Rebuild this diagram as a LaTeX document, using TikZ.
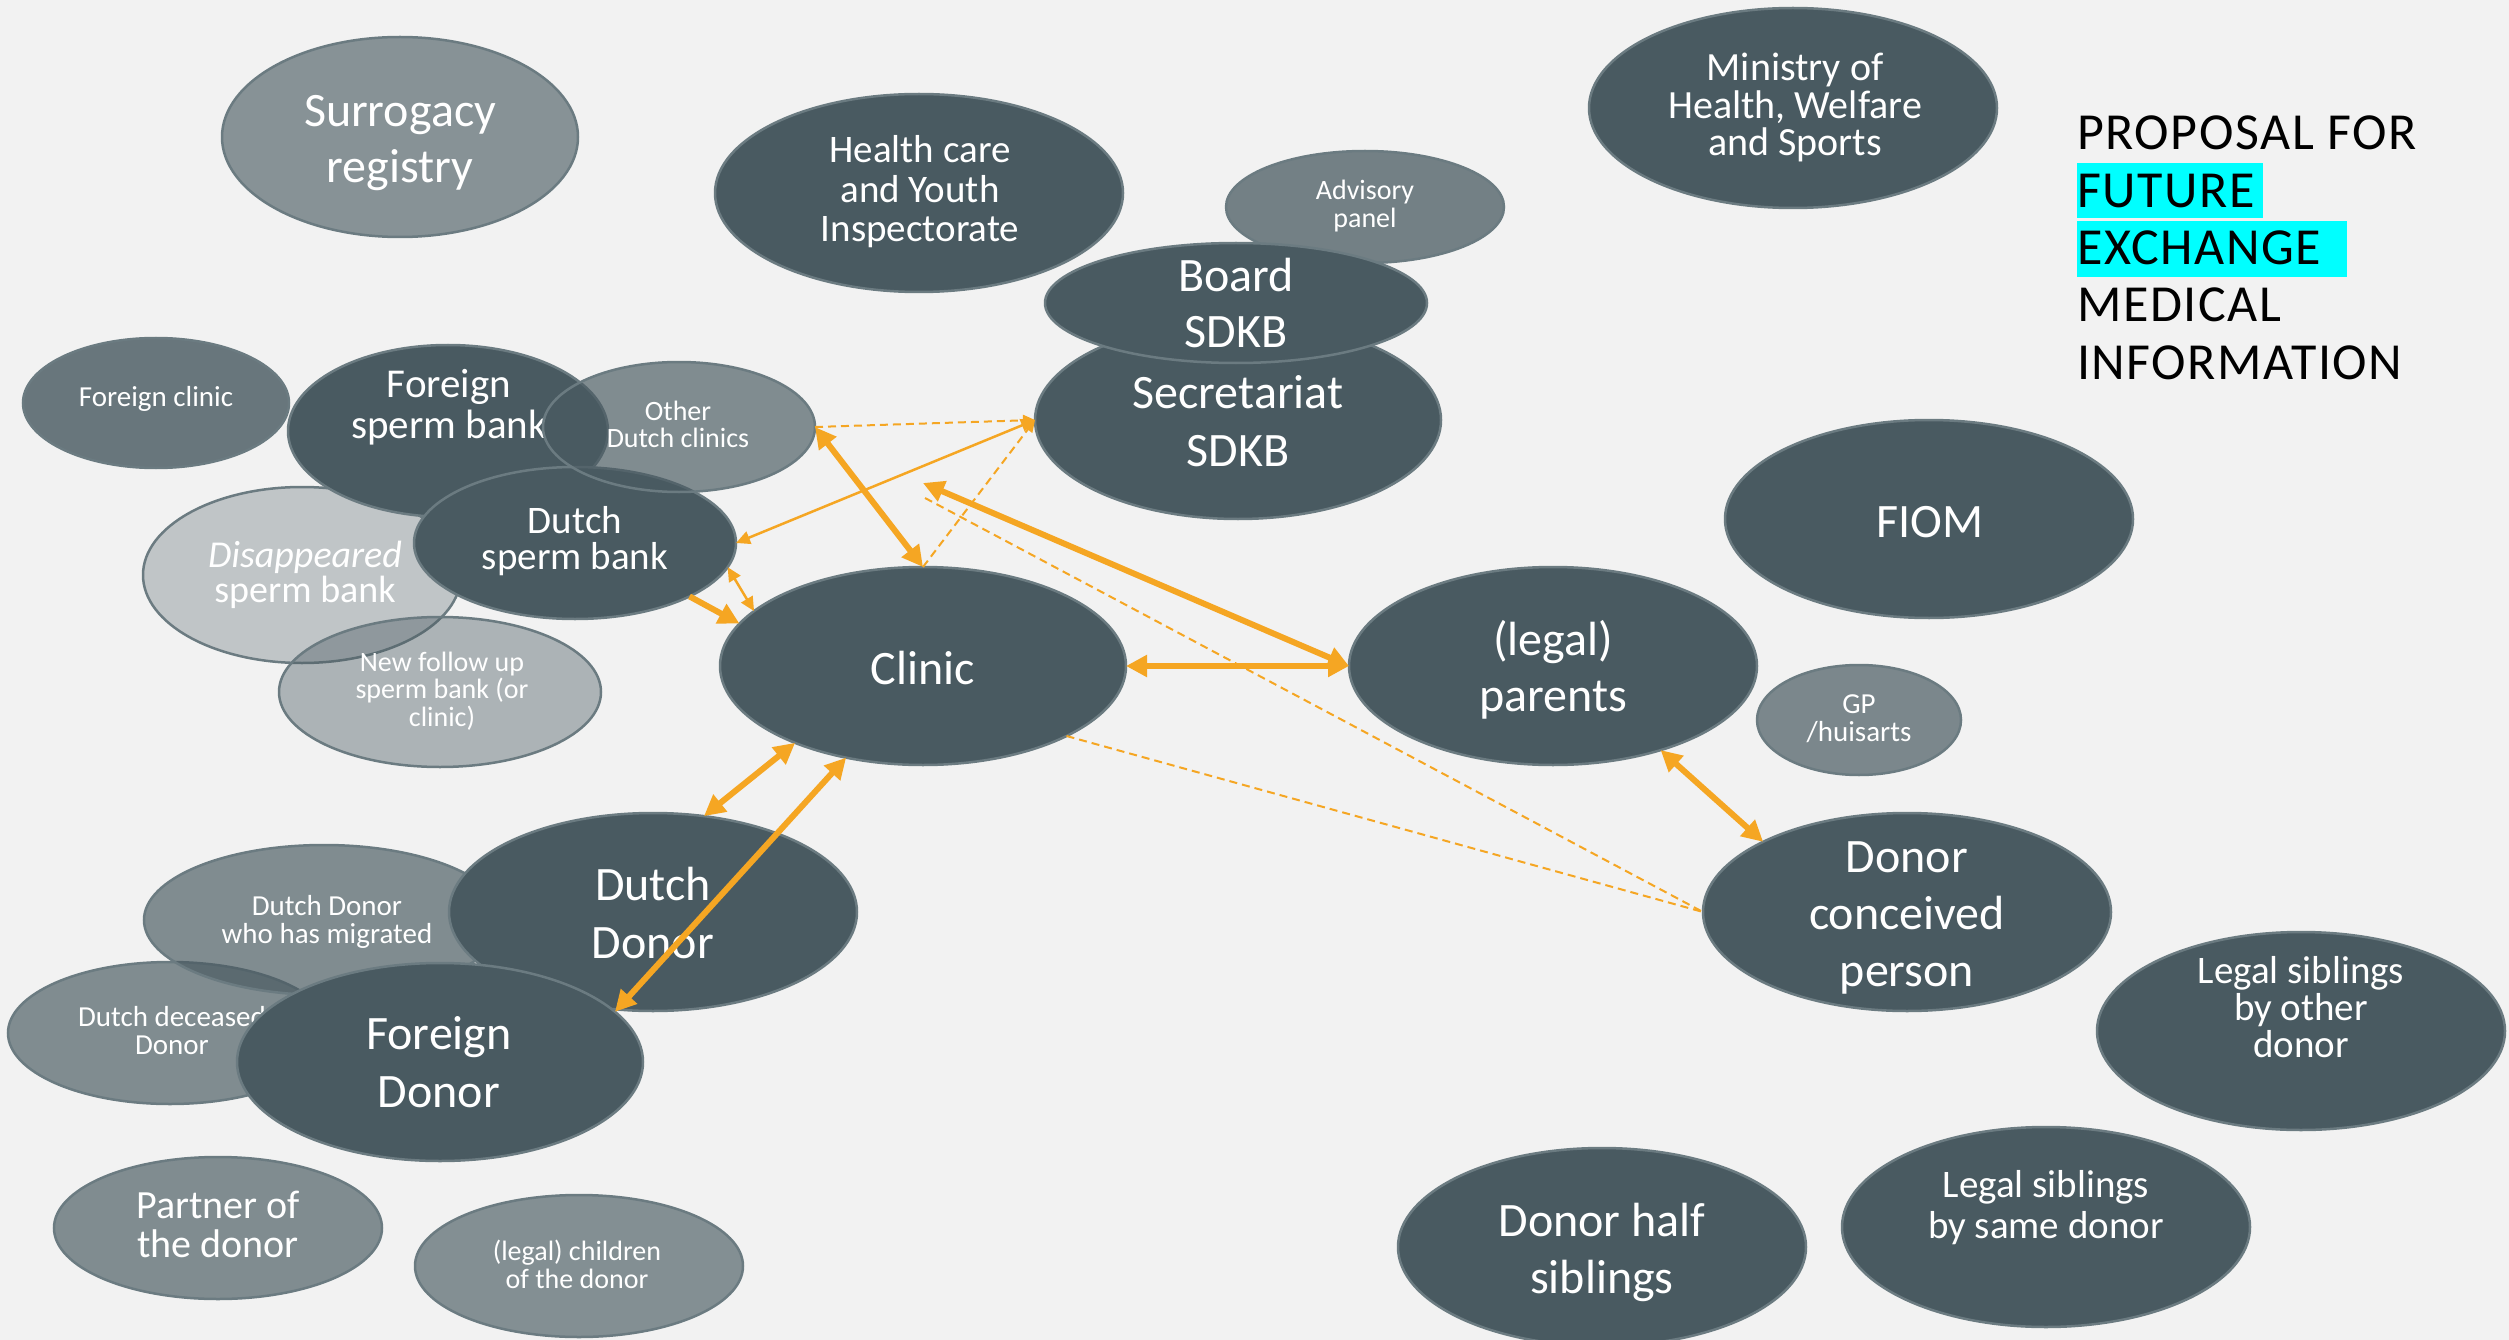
\documentclass[tikz,border=0pt]{standalone}
\usepackage{fontspec}
\setmainfont{Carlito}
\usetikzlibrary{arrows.meta,shapes.geometric}
\definecolor{bg}{HTML}{F2F2F2}
\definecolor{dk}{HTML}{495A61}
\definecolor{bd}{HTML}{6B7B81}
\definecolor{org}{HTML}{F5A623}
\definecolor{cy}{HTML}{00FFFF}
\newcommand\ml[3]{{\fontsize{#1}{#2}\selectfont\lineskiplimit=-1000pt\vtop{\halign{\hfil##\hfil\cr#3\crcr}}}}
\newcommand\mlL[3]{{\fontsize{#1}{#2}\selectfont\addfontfeature{LetterSpace=3}\lineskiplimit=-1000pt\vtop{\halign{##\hfil\cr#3\crcr}}}}
\tikzset{
  ell/.style={ellipse, draw=bd, line width=2.5pt, fill=dk, inner sep=0pt, outer sep=0pt},
  esz/.style 2 args={minimum width=#1pt, minimum height=#2pt},
  lab/.style={anchor=base, inner sep=0pt, text=white},
  thk/.style={draw=org, line width=6pt},
  thn/.style={draw=org, line width=2.5pt},
  dsh/.style={draw=org, line width=2pt, dash pattern=on 8pt off 5pt},
  tk/.tip={Triangle[length=21pt,width=21pt]},
  tn/.tip={Triangle[length=14pt,width=13pt]},
  td/.tip={Triangle[length=12pt,width=11pt]},
}
\begin{document}
\begin{tikzpicture}[x=1pt,y=-1pt]
\fill[bg] (0,0) rectangle (2509,1340);
\useasboundingbox (0,0) rectangle (2509,1340);

% title
\fill[cy] (2077,163) rectangle (2263,218);
\fill[cy] (2077,221) rectangle (2347,277);
\node[anchor=base west, inner sep=0pt, text=black] (title) at (2077,150)
  {\mlL{52}{57.3}{PROPOSAL FOR\cr FUTURE\cr EXCHANGE\cr MEDICAL\cr INFORMATION}};

% top area
\node[ell, esz={356}{200}, fill opacity=0.63] (surr) at (400,137) {};
\node[lab] (surr-t) at (400,127) {\ml{48}{56}{Surrogacy\cr registry}};
\node[ell, esz={408}{198}] (health) at (919,193) {};
\node[lab] (health-t) at (920,163) {\ml{39}{39.5}{Health care\cr and Youth\cr Inspectorate}};
\node[ell, esz={408}{200}] (min) at (1793,108) {};
\node[lab] (min-t) at (1795,81) {\ml{40}{37.5}{Ministry of\cr Health, Welfare\cr and Sports}};
\node[ell, esz={278}{112}, fill opacity=0.75] (adv) at (1365,207) {};
\node[lab] (adv-t) at (1365,200) {\ml{28}{28}{Advisory\cr panel}};
\node[ell, esz={406}{198}] (sec) at (1238,420) {};
\node[lab] (sec-t) at (1238,408) {\ml{48}{58}{Secretariat\cr SDKB}};
\node[ell, esz={382}{120}] (board) at (1236,303) {};
\node[lab] (board-t) at (1236,292) {\ml{48}{56}{Board\cr SDKB}};

% sperm bank cluster
\node[ell, esz={266}{130}, fill opacity=0.81] (fcl) at (156,403) {};
\node[lab] (fcl-t) at (156,406) {\ml{29}{29}{Foreign clinic}};
\node[ell, esz={318}{176}, fill opacity=0.29] (disap) at (302,575) {};
\node[lab] (disap-t) at (305,567) {\ml{38}{35}{\textit{Disappeared}\cr sperm bank}};
\node[ell, esz={320}{172}] (fsb) at (448,431) {};
\node[lab] (fsb-t) at (449,397) {\ml{41}{41}{Foreign\cr sperm bank}};
\node[ell, esz={322}{152}] (dsb) at (575,543) {};
\node[lab] (dsb-t) at (575,533) {\ml{39}{36}{Dutch\cr sperm bank}};
\node[ell, esz={272}{130}, fill opacity=0.67] (odc) at (679,427) {};
\node[lab] (odc-t) at (678,420) {\ml{28}{27}{Other\cr Dutch clinics}};
\node[ell, esz={322}{150}, fill opacity=0.41] (nfu) at (440,692) {};
\node[lab] (nfu-t) at (442,671) {\ml{28}{27.5}{New follow up\cr sperm bank (or\cr clinic)}};

% centre and right
\node[ell, esz={406}{198}] (clinic) at (923,666) {};
\node[lab] (clinic-t) at (923,684) {\ml{48}{58}{Clinic}};
\node[ell, esz={408}{198}] (parents) at (1553,666) {};
\node[lab] (parents-t) at (1553,655) {\ml{48}{56}{(legal)\cr parents}};
\node[ell, esz={408}{198}] (fiom) at (1929,519) {};
\node[lab] (fiom-t) at (1930,537) {\ml{48}{58}{FIOM}};
\node[ell, esz={204}{110}, fill opacity=0.70] (gp) at (1859,720) {};
\node[lab] (gp-t) at (1859,713) {\ml{29}{28}{GP\cr /huisarts}};
\node[ell, esz={408}{198}] (dcp) at (1907,912) {};
\node[lab] (dcp-t) at (1907,872) {\ml{48}{57}{Donor\cr conceived\cr person}};
\node[ell, esz={408}{198}] (lso) at (2301,1031) {};
\node[lab] (lso-t) at (2301,983) {\ml{39}{37}{Legal siblings\cr by other\cr donor}};
\node[ell, esz={408}{200}] (lss) at (2046,1227) {};
\node[lab] (lss-t) at (2046,1197) {\ml{39}{41}{Legal siblings\cr by same donor}};
\node[ell, esz={408}{198}] (dhs) at (1602,1247) {};
\node[lab] (dhs-t) at (1602,1236) {\ml{48}{57}{Donor half\cr siblings}};

% donor cluster
\node[ell, esz={324}{142}, fill opacity=0.67] (ddec) at (170,1033) {};
\node[lab] (ddec-t) at (172,1026) {\ml{29}{28}{Dutch deceased\cr Donor}};
\node[ell, esz={360}{150}, fill opacity=0.67] (dmig) at (324,920) {};
\node[lab] (dmig-t) at (327,915) {\ml{29}{28}{Dutch Donor\cr who has migrated}};
\node[ell, esz={408}{198}] (ddonor) at (653,912) {};
\node[lab] (ddonor-t) at (653,900) {\ml{48}{58}{Dutch\cr Donor}};
\node[ell, esz={406}{198}] (fdonor) at (440,1062) {};
\node[lab] (fdonor-t) at (439,1049) {\ml{48}{58}{Foreign\cr Donor}};
\node[ell, esz={328}{142}, fill opacity=0.67] (partner) at (218,1228) {};
\node[lab] (partner-t) at (218,1218) {\ml{40}{39}{Partner of\cr the donor}};
\node[ell, esz={328}{142}, fill opacity=0.65] (child) at (579,1266) {};
\node[lab] (child-t) at (577,1260) {\ml{28}{28}{(legal) children\cr of the donor}};

% free ends
\coordinate (fe1) at (923,483);
\coordinate (fe2) at (925,498);

% connectors
\draw[dsh, -td] (odc.east) -- (sec.west);
\draw[dsh, -td] (clinic.north) -- (sec.west);
\draw[thn, tn-tn] (dsb.east) -- (sec.west);
\draw[thk, tk-tk] (odc.east) -- (clinic.north);
\draw[dsh] (fe2) -- (dcp.west);
\draw[dsh] (clinic.-26) -- (dcp.west);
\draw[thk, tk-tk] (fe1) -- (parents.west);
\draw[thk, tk-tk] (clinic.east) -- (parents.west);
\draw[thk, tk-tk] (parents.-38) -- (dcp.154);
\draw[thk, tk-tk] (clinic.-149) -- (ddonor.62);
\draw[thk, tk-tk] (clinic.-130) -- (fdonor.16);
\draw[thk, -tk] (dsb.-25) -- (clinic.167);
\draw[thn, tn-tn] (dsb.-9) -- (clinic.162);
\end{tikzpicture}
\end{document}
